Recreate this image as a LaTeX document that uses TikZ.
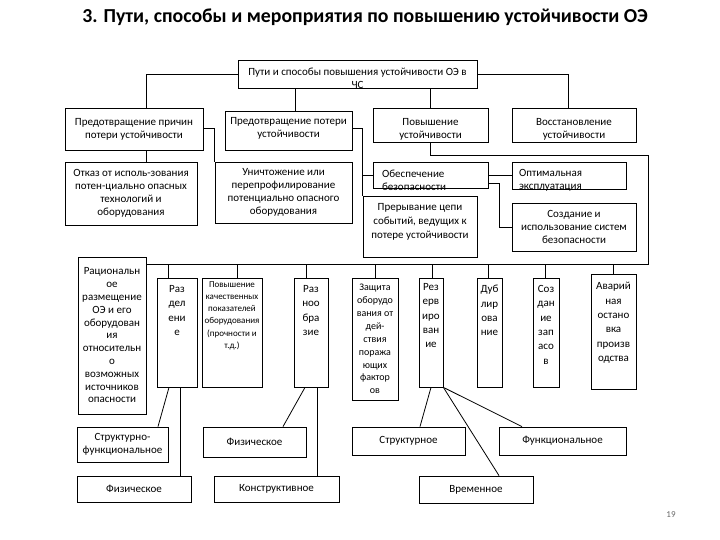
\documentclass[tikz,border=0pt]{standalone}
\usepackage{fontspec}
\setmainfont{Carlito}
\usetikzlibrary{positioning}

\begin{document}
\begin{tikzpicture}[x=1pt,y=-1pt,line width=0.8pt,font=\fontsize{11}{12.8}\selectfont,
	blk/.style 2 args={draw,inner sep=0pt,align=center,minimum width=#1pt,minimum height=#2pt},
	txt/.style={inner sep=0pt,align=center},
	uptext/.style 2 args={label={[txt,font=\fontsize{11}{14.3}\selectfont,anchor=north,yshift=-#1pt]north:#2}},
	midtext/.style 2 args={label={[txt,anchor=center,yshift=-#1pt]center:#2}},
	lefttext/.style n args={3}{label={[txt,align=left,anchor=west,xshift=#1pt,yshift=-#2pt]west:#3}}]
	\useasboundingbox (0,0) rectangle (720,540);
	\node[font=\fontsize{19.8}{22}\selectfont\bfseries] (ttl) at (365,17) {3. Пути, способы и мероприятия по повышению устойчивости ОЭ};
	% upper levels
	\node[blk={239}{28},midtext={4}{Пути и способы повышения устойчивости ОЭ в\\ЧС}] (sp) at (357.5,74) {};
	\node[blk={138}{42}] (b1) at (134,129) {Предотвращение причин\\потери устойчивости};
	\node[blk={127}{39},midtext={-2}{Предотвращение потери\\устойчивости}] (b2) at (288.5,130.5) {};
	\node[blk={115}{34},midtext={4.5}{Повышение\\устойчивости}] (b3) at (430.5,125) {};
	\node[blk={124}{34},midtext={4.5}{Восстановление\\устойчивости}] (b4) at (574,125) {};
	\node[blk={132}{63}] (b5) at (131,193.5) {Отказ от исполь-зования\\потен-циально опасных\\технологий и\\оборудования};
	\node[blk={137}{61}] (b6) at (283.5,192.5) {Уничтожение или\\перепрофилирование\\потенциально опасного\\оборудования};
	\node[blk={115}{26},lefttext={9}{5.5}{Обеспечение\\безопасности}] (b7) at (430.5,175) {};
	\node[blk={114}{61},uptext={7}{Прерывание цепи\\событий, ведущих к\\потере устойчивости}] (b8) at (420,226.5) {};
	\node[blk={114}{27},lefttext={7}{4.5}{Оптимальная\\эксплуатация}] (b9) at (569,175.5) {};
	\node[blk={124}{48}] (b10) at (574,227) {Создание и\\использование систем\\безопасности};
	% measures
	\node[blk={68}{157}] (r1) at (112,335.5) {Рациональн\\ое\\размещение\\ОЭ и его\\оборудован\\ия\\относительн\\о\\возможных\\источников\\опасности};
	\node[blk={40}{109},uptext={7.5}{Раз\\дел\\ени\\е}] (r2) at (177,332.5) {};
	\node[blk={60}{109},label={[txt,font=\fontsize{9}{12.2}\selectfont,anchor=north,yshift=-3.5pt]north:Повышение\\качественных\\показателей\\оборудования\\(прочности и\\т.д.)}] (r3) at (232,332.5) {};
	\node[blk={34}{109},uptext={7.5}{Раз\\ноо\\бра\\зие}] (r4) at (311,332.5) {};
	\node[blk={46}{122},font=\fontsize{10}{12.9}\selectfont] (r5) at (375,339) {Защита\\оборудо\\вания от\\дей-\\ствия\\поража\\ющих\\фактор\\ов};
	\node[blk={24}{109},uptext={5.5}{Рез\\ерв\\иро\\ван\\ие}] (r6) at (431,332.5) {};
	\node[blk={25}{109},uptext={7.5}{Дуб\\лир\\ова\\ние}] (r7) at (489.5,332.5) {};
	\node[blk={26}{109},uptext={7.5}{Соз\\дан\\ие\\зап\\асо\\в}] (r8) at (546,332.5) {};
	\node[blk={45}{115},uptext={8.5}{Аварий\\ная\\остано\\вка\\произв\\одства}] (r9) at (613.5,331.5) {};
	% kinds
	\node[blk={91}{35}] (sf) at (122.5,444.5) {Структурно-\\функциональное};
	\node[blk={114}{26}] (fz1) at (134,489) {Физическое};
	\node[blk={103}{30}] (fz2) at (254.5,442) {Физическое};
	\node[blk={125}{26}] (kn) at (276.5,489) {Конструктивное};
	\node[blk={113}{28}] (st) at (408.5,441) {Структурное};
	\node[blk={127}{28}] (fn) at (562.5,441) {Функциональное};
	\node[blk={114}{27}] (vr) at (476,489.5) {Временное};
	\node[font=\fontsize{9}{10}\selectfont,text=black!60] (pg) at (671,515) {19};
	\coordinate (busR) at (648,264);
	% connectors
	\draw (sp.west) -| ([xshift=12pt]b1.north);
	\draw (sp.east) -| ([xshift=-6pt]b4.north);
	\draw ([xshift=6.5pt]b2.north) -- ([xshift=6.5pt]b2.north |- sp.south);
	\draw (b3.north) -- (b3.north |- sp.south);
	\draw ([xshift=12pt]b1.south) -- ([xshift=12pt]b1.south |- b5.north);
	\draw ([yshift=1pt]b1.east) -| (b6.north west);
	\draw ([yshift=2.5pt]b2.east) -| (b8.north west);
	\draw (b7.west) -- (b7.west -| b8.west);
	\draw (b7.east) -- (b7.east -| b9.west);
	\draw ([yshift=-8pt]b7.east) -- ++(11,0) |- (b10.west);
	\draw (b3.south) -- ++(0,13) -| (busR) -- (busR -| r1.east);
	\foreach \n/\s in {r2/-9,r3/5,r4/-5,r5/0,r6/1,r7/-1.5,r8/-1,r9/0}
		\draw ([xshift=\s pt]\n.north) -- ([xshift=\s pt]\n.north |- busR);
	\draw ([xshift=-8pt]r2.south) -- ([xshift=35.5pt]sf.north);
	\draw ([xshift=3pt]r2.south) -- ([xshift=3pt]r2.south |- fz1.north);
	\draw ([xshift=-6pt]r4.south) -- ([xshift=28.5pt]fz2.north);
	\draw ([xshift=6pt]r4.south) -- ([xshift=6pt]r4.south |- kn.north);
	\draw (r6.south) -- ([xshift=11.5pt]st.north);
	\draw (r6.south east) -- ([xshift=23pt]vr.north);
	\draw (r6.south east) -- ([xshift=-40.5pt]fn.north);
\end{tikzpicture}
\end{document}
